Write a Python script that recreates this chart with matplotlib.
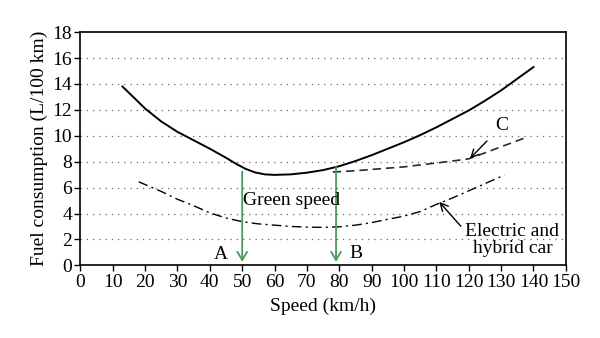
import matplotlib
matplotlib.use("Agg")
import matplotlib.pyplot as plt
import numpy as np

plt.rcParams["font.family"] = ["Liberation Serif", "DejaVu Serif"]

# conventional car
speed_car = [13, 20, 25, 30, 35, 40, 45, 48, 51, 54, 57, 60, 65, 70, 75, 80, 85, 90,
             95, 100, 105, 110, 115, 120, 125, 130, 135, 140]
fuel_car = [13.8, 12.1, 11.1, 10.3, 9.65, 9.0, 8.3, 7.85, 7.45, 7.17, 7.02, 6.98,
            7.02, 7.15, 7.35, 7.65, 8.05, 8.5, 9.0, 9.5, 10.05, 10.65, 11.3, 11.95,
            12.7, 13.5, 14.4, 15.3]

# curve C
speed_c = [78, 85, 90, 95, 100, 105, 110, 115, 120, 125, 130, 137]
fuel_c = [7.2, 7.3, 7.4, 7.5, 7.6, 7.75, 7.9, 8.05, 8.22, 8.68, 9.15, 9.8]

# electric and hybrid car
speed_ev = [18, 25, 30, 35, 40, 45, 50, 55, 60, 65, 70, 75, 80, 85, 90, 95, 100,
            105, 110, 115, 120, 125, 131]
fuel_ev = [6.45, 5.7, 5.1, 4.6, 4.05, 3.65, 3.37, 3.2, 3.1, 3.0, 2.95, 2.93, 2.97,
           3.1, 3.3, 3.55, 3.8, 4.15, 4.7, 5.2, 5.75, 6.3, 6.97]

green_speeds = [50, 79]
green_tops = [7.45, 7.8]

fig = plt.figure(figsize=(6, 3.38), dpi=100)
ax = fig.add_axes([0.134, 0.215, 0.809, 0.69])

for y in range(2, 18, 2):
    ax.axhline(y, color="#666666", linestyle=(0, (1, 4)), linewidth=0.9, zorder=0)

ax.plot(speed_car, fuel_car, color="black", linewidth=1.4)
ax.plot(speed_c, fuel_c, color="#1c2a44", linewidth=1.2, linestyle=(0, (5, 3)))
ax.plot(speed_ev, fuel_ev, color="black", linewidth=1.0, linestyle=(0, (7, 3, 1.5, 3)))

green = "#4a9a5a"
for x, top in zip(green_speeds, green_tops):
    ax.annotate("", xy=(x, 0.05), xytext=(x, top),
                arrowprops=dict(arrowstyle="->,head_length=0.6,head_width=0.35",
                                color=green, lw=1.3))

fs = 14
ax.text(43.3, 0.8, "A", fontsize=fs, ha="center", va="center")
ax.text(85, 0.95, "B", fontsize=fs, ha="center", va="center")
ax.text(50.4, 5.0, "Green speed", fontsize=fs, ha="left", va="center")

ax.annotate("C", xy=(120.4, 8.25), xytext=(130.3, 10.8), fontsize=fs,
            ha="center", va="center",
            arrowprops=dict(arrowstyle="->", color="black", lw=1.0, shrinkA=6, shrinkB=0))
ax.annotate("Electric and\nhybrid car", xy=(110.9, 4.9), xytext=(133.5, 1.95),
            fontsize=fs, ha="center", va="center", linespacing=1.05,
            arrowprops=dict(arrowstyle="->", color="black", lw=1.0,
                            relpos=(0.0, 0.75), shrinkA=2, shrinkB=0))

ax.set_xlim(0, 150)
ax.set_ylim(0, 18)
ax.set_xticks(range(0, 151, 10))
ax.set_yticks(range(0, 19, 2))
ax.tick_params(direction="out", length=4, width=1, labelsize=fs, pad=2)
for s in ax.spines.values():
    s.set_linewidth(1.2)

ax.set_xlabel("Speed (km/h)", fontsize=fs, labelpad=5)
ax.set_ylabel("Fuel consumption (L/100 km)", fontsize=fs, labelpad=3)

fig.savefig("out.png", dpi=100)
